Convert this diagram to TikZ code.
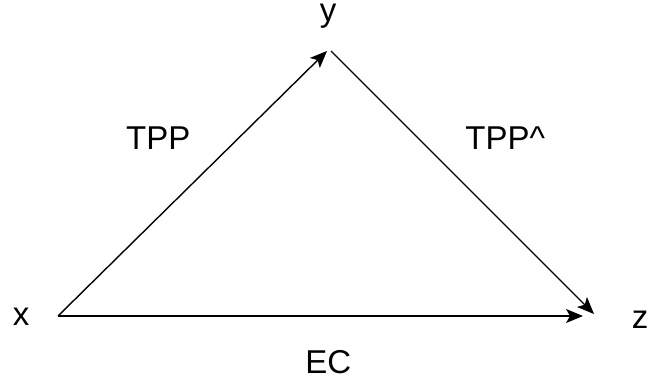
\documentclass[tikz,border=0pt]{standalone}
\usepackage{fontspec}
\setmainfont{Liberation Sans}
\usetikzlibrary{arrows.meta}
\begin{document}
\begin{tikzpicture}[x=1pt,y=1pt,
  lbl/.style={inner sep=0pt,anchor=base,font=\fontsize{33}{36}\selectfont},
  conn/.style={line width=1.4pt,-{Stealth[length=17pt,width=14pt,inset=4pt]}}]
\useasboundingbox (0,0) rectangle (650,381);
\node[lbl] (xl) at (21,56) {x};
\node[lbl] (yl) at (328,359) {y};
\node[lbl] (zl) at (640,53) {z};
\node[lbl] (tpp) at (158.3,232) {TPP};
\node[lbl] (tppi) at (505.3,232) {TPP\^{}};
\node[lbl] (ec) at (328.3,8) {EC};
\coordinate (a) at (58,65);
\coordinate (b) at (327,330);
\coordinate (c) at (331,330);
\coordinate (d) at (594,67);
\coordinate (e) at (583,65);
\draw[conn] (a) -- (b);
\draw[conn] (c) -- (d);
\draw[conn] (a) -- (e);
\end{tikzpicture}
\end{document}
